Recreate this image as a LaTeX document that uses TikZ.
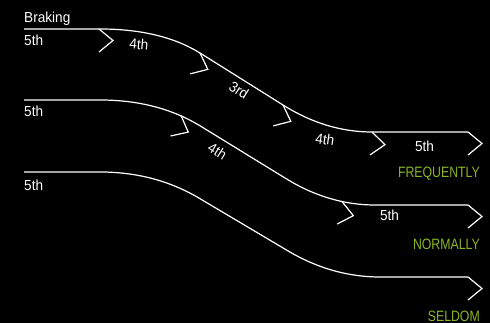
\documentclass[tikz,border=0pt]{standalone}
\usepackage{fontspec}
\setmainfont[FakeStretch=0.94]{Liberation Sans}
\newfontfamily\capsfont[FakeStretch=0.82]{Liberation Sans}
\usetikzlibrary{calc}
\definecolor{catgreen}{RGB}{140,181,38}
\newcommand\chevron[2]{\draw[track,shift={(#1)},rotate=-#2] (0,0) -- (14,11.5) -- (0,23);}
\begin{document}
\begin{tikzpicture}[x=1pt,y=-1pt,
  track/.style={draw=white,line width=1.2pt,line join=miter},
  gear/.style={text=white,font=\fontsize{14.5}{17}\selectfont,inner sep=0pt},
  freq/.style={text=catgreen,font=\capsfont\fontsize{15}{17}\selectfont,inner sep=0pt,anchor=east}]
\fill[black] (0,0) rectangle (490,323);
\useasboundingbox (0,0) rectangle (490,323);

% ---- path 1 (frequently)
\coordinate (p1s) at (24,29);
\coordinate (p1a) at (100,29);
\coordinate (p1c) at (161,29);
\coordinate (p1d) at (200,53);
\coordinate (p1e) at (283,105);
\coordinate (p1f) at (326,132);
\coordinate (p1g) at (372,132);
\coordinate (p1h) at (468,132);
\draw[track] (p1s) -- (p1a) .. controls ($(p1a)!2/3!(p1c)$) and ($(p1d)!2/3!(p1c)$) .. (p1d)
  -- (p1e) .. controls ($(p1e)!2/3!(p1f)$) and ($(p1g)!2/3!(p1f)$) .. (p1g) -- (p1h);
\coordinate (c11) at (99,29);
\chevron{c11}{0}
\chevron{p1d}{25}
\chevron{p1e}{25}
\chevron{p1g}{5}
\chevron{p1h}{0}

% ---- path 2 (normally)
\coordinate (p2s) at (24,100);
\coordinate (p2a) at (100,100);
\coordinate (p2c) at (158,100);
\coordinate (p2d) at (200.75,126.25);
\coordinate (p2e) at (286.25,178.75);
\coordinate (p2f) at (329,205);
\coordinate (p2g) at (375,205);
\coordinate (p2h) at (468,205);
\draw[track] (p2s) -- (p2a) .. controls ($(p2a)!2/3!(p2c)$) and ($(p2d)!2/3!(p2c)$) .. (p2d)
  -- (p2e) .. controls ($(p2e)!2/3!(p2f)$) and ($(p2g)!2/3!(p2f)$) .. (p2g) -- (p2h);
\coordinate (c21) at (181,115.5);
\coordinate (c22) at (342,201.5);
\chevron{c21}{27}
\chevron{c22}{12}
\chevron{p2h}{0}

% ---- path 3 (seldom)
\coordinate (p3s) at (24,172);
\coordinate (p3a) at (100,172);
\coordinate (p3c) at (155,172);
\coordinate (p3d) at (199.25,198.25);
\coordinate (p3e) at (287.75,250.75);
\coordinate (p3f) at (332,277);
\coordinate (p3g) at (380,277);
\coordinate (p3h) at (468,277);
\draw[track] (p3s) -- (p3a) .. controls ($(p3a)!2/3!(p3c)$) and ($(p3d)!2/3!(p3c)$) .. (p3d)
  -- (p3e) .. controls ($(p3e)!2/3!(p3f)$) and ($(p3g)!2/3!(p3f)$) .. (p3g) -- (p3h);
\chevron{p3h}{0}

% ---- labels
\node[gear,anchor=base west] (braking) at (24,22.5) {Braking};
\node[gear,anchor=base west] (g15a) at (24,46) {5th};
\node[gear,rotate=-5] (g14a) at (139,44.5) {4th};
\node[gear,rotate=-32] (g13) at (239,90) {3rd};
\node[gear,rotate=-8] (g14b) at (325,139.5) {4th};
\node[gear] (g15b) at (424.5,146) {5th};
\node[freq] (freq) at (480,174) {FREQUENTLY};

\node[gear,anchor=base west] (g25a) at (24,117) {5th};
\node[gear,rotate=-32] (g24) at (217.5,151) {4th};
\node[gear] (g25b) at (389.5,215.5) {5th};
\node[freq] (norm) at (480,244) {NORMALLY};

\node[gear,anchor=base west] (g35) at (24,190.5) {5th};
\node[freq] (seld) at (480,316) {SELDOM};
\end{tikzpicture}
\end{document}
